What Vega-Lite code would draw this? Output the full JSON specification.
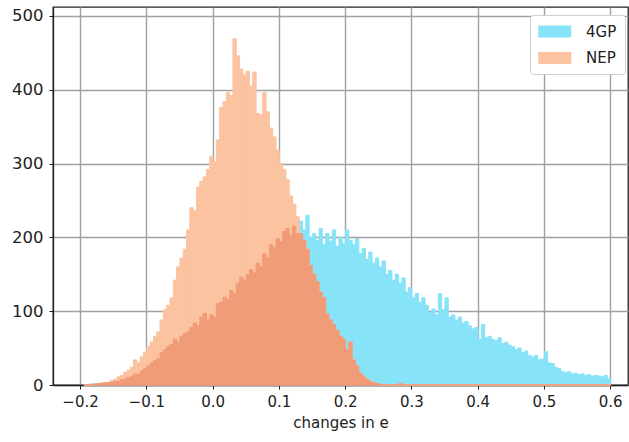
{
  "$schema": "https://vega.github.io/schema/vega-lite/v6.json",
  "autosize": {"type": "none"},
  "width": 575,
  "height": 378,
  "padding": {"left": 53, "top": 7, "right": 1, "bottom": 57},
  "background": "white",
  "config": {
    "view": {"stroke": "#222", "strokeWidth": 1.3},
    "axis": {"labelFont": "DejaVu Sans", "titleFont": "DejaVu Sans", "labelFontSize": 15, "labelColor": "#222", "titleColor": "#222", "titleFontWeight": "normal", "titleFontSize": 15, "domainColor": "#222", "domainWidth": 1.3, "tickColor": "#222", "tickSize": 4, "gridColor": "#a0a0a0", "gridWidth": 1.4, "zindex": 1}
  },
  "data": {"values": [
    {"x": -0.195, "g": 0, "n": 0}, {"x": -0.19, "g": 1, "n": 0}, {"x": -0.185, "g": 1, "n": 1}, {"x": -0.18, "g": 2, "n": 1},
    {"x": -0.175, "g": 2, "n": 2}, {"x": -0.17, "g": 2, "n": 3}, {"x": -0.165, "g": 3, "n": 3}, {"x": -0.16, "g": 3, "n": 4},
    {"x": -0.155, "g": 4, "n": 6}, {"x": -0.15, "g": 5, "n": 8}, {"x": -0.145, "g": 5, "n": 11}, {"x": -0.14, "g": 7, "n": 13},
    {"x": -0.135, "g": 8, "n": 17}, {"x": -0.13, "g": 10, "n": 20}, {"x": -0.125, "g": 12, "n": 24}, {"x": -0.12, "g": 15, "n": 34},
    {"x": -0.115, "g": 14, "n": 30}, {"x": -0.11, "g": 19, "n": 38}, {"x": -0.105, "g": 22, "n": 44}, {"x": -0.1, "g": 26, "n": 52},
    {"x": -0.095, "g": 30, "n": 58}, {"x": -0.09, "g": 33, "n": 66}, {"x": -0.085, "g": 36, "n": 72}, {"x": -0.08, "g": 44, "n": 88},
    {"x": -0.075, "g": 48, "n": 102}, {"x": -0.07, "g": 52, "n": 108}, {"x": -0.065, "g": 55, "n": 118}, {"x": -0.06, "g": 62, "n": 142},
    {"x": -0.055, "g": 58, "n": 160}, {"x": -0.05, "g": 66, "n": 172}, {"x": -0.045, "g": 70, "n": 184}, {"x": -0.04, "g": 72, "n": 210},
    {"x": -0.035, "g": 78, "n": 240}, {"x": -0.03, "g": 84, "n": 236}, {"x": -0.025, "g": 80, "n": 268}, {"x": -0.02, "g": 92, "n": 276},
    {"x": -0.015, "g": 97, "n": 282}, {"x": -0.01, "g": 88, "n": 292}, {"x": -0.005, "g": 95, "n": 310}, {"x": 0, "g": 92, "n": 302},
    {"x": 0.005, "g": 110, "n": 332}, {"x": 0.01, "g": 112, "n": 376}, {"x": 0.015, "g": 119, "n": 384}, {"x": 0.02, "g": 116, "n": 396},
    {"x": 0.025, "g": 128, "n": 392}, {"x": 0.03, "g": 124, "n": 469}, {"x": 0.035, "g": 138, "n": 446}, {"x": 0.04, "g": 146, "n": 428},
    {"x": 0.045, "g": 142, "n": 420}, {"x": 0.05, "g": 150, "n": 425}, {"x": 0.055, "g": 156, "n": 405}, {"x": 0.06, "g": 152, "n": 424},
    {"x": 0.065, "g": 165, "n": 368}, {"x": 0.07, "g": 160, "n": 366}, {"x": 0.075, "g": 178, "n": 396}, {"x": 0.08, "g": 172, "n": 370},
    {"x": 0.085, "g": 190, "n": 348}, {"x": 0.09, "g": 186, "n": 336}, {"x": 0.095, "g": 198, "n": 318}, {"x": 0.1, "g": 194, "n": 300},
    {"x": 0.105, "g": 208, "n": 292}, {"x": 0.11, "g": 212, "n": 278}, {"x": 0.115, "g": 202, "n": 256}, {"x": 0.12, "g": 215, "n": 245},
    {"x": 0.125, "g": 205, "n": 228}, {"x": 0.13, "g": 222, "n": 205}, {"x": 0.135, "g": 210, "n": 196}, {"x": 0.14, "g": 230, "n": 184},
    {"x": 0.145, "g": 200, "n": 162}, {"x": 0.15, "g": 205, "n": 150}, {"x": 0.155, "g": 196, "n": 140}, {"x": 0.16, "g": 212, "n": 126},
    {"x": 0.165, "g": 190, "n": 118}, {"x": 0.17, "g": 205, "n": 96}, {"x": 0.175, "g": 195, "n": 88}, {"x": 0.18, "g": 210, "n": 82},
    {"x": 0.185, "g": 188, "n": 74}, {"x": 0.19, "g": 200, "n": 66}, {"x": 0.195, "g": 192, "n": 62}, {"x": 0.2, "g": 210, "n": 48},
    {"x": 0.205, "g": 196, "n": 58}, {"x": 0.21, "g": 190, "n": 34}, {"x": 0.215, "g": 198, "n": 26}, {"x": 0.22, "g": 178, "n": 16},
    {"x": 0.225, "g": 185, "n": 12}, {"x": 0.23, "g": 170, "n": 8}, {"x": 0.235, "g": 180, "n": 5}, {"x": 0.24, "g": 165, "n": 3},
    {"x": 0.245, "g": 172, "n": 2}, {"x": 0.25, "g": 160, "n": 1}, {"x": 0.255, "g": 168, "n": 0}, {"x": 0.26, "g": 150, "n": 0},
    {"x": 0.265, "g": 155, "n": 0}, {"x": 0.27, "g": 142, "n": 0}, {"x": 0.275, "g": 150, "n": 0}, {"x": 0.28, "g": 138, "n": 2},
    {"x": 0.285, "g": 145, "n": 0}, {"x": 0.29, "g": 126, "n": 0}, {"x": 0.295, "g": 132, "n": 0}, {"x": 0.3, "g": 118, "n": 0},
    {"x": 0.305, "g": 124, "n": 0}, {"x": 0.31, "g": 112, "n": 0}, {"x": 0.315, "g": 118, "n": 0}, {"x": 0.32, "g": 108, "n": 0},
    {"x": 0.325, "g": 98, "n": 0}, {"x": 0.33, "g": 103, "n": 0}, {"x": 0.335, "g": 95, "n": 0}, {"x": 0.34, "g": 124, "n": 0},
    {"x": 0.345, "g": 102, "n": 0}, {"x": 0.35, "g": 118, "n": 0}, {"x": 0.355, "g": 92, "n": 0}, {"x": 0.36, "g": 95, "n": 0},
    {"x": 0.365, "g": 88, "n": 0}, {"x": 0.37, "g": 92, "n": 0}, {"x": 0.375, "g": 84, "n": 0}, {"x": 0.38, "g": 86, "n": 0},
    {"x": 0.385, "g": 80, "n": 0}, {"x": 0.39, "g": 76, "n": 0}, {"x": 0.395, "g": 78, "n": 0}, {"x": 0.4, "g": 62, "n": 0},
    {"x": 0.405, "g": 82, "n": 0}, {"x": 0.41, "g": 64, "n": 0}, {"x": 0.415, "g": 66, "n": 0}, {"x": 0.42, "g": 62, "n": 0},
    {"x": 0.425, "g": 60, "n": 0}, {"x": 0.43, "g": 64, "n": 0}, {"x": 0.435, "g": 56, "n": 0}, {"x": 0.44, "g": 58, "n": 0},
    {"x": 0.445, "g": 54, "n": 0}, {"x": 0.45, "g": 52, "n": 0}, {"x": 0.455, "g": 48, "n": 0}, {"x": 0.46, "g": 50, "n": 0},
    {"x": 0.465, "g": 44, "n": 0}, {"x": 0.47, "g": 46, "n": 0}, {"x": 0.475, "g": 40, "n": 0}, {"x": 0.48, "g": 38, "n": 0},
    {"x": 0.485, "g": 40, "n": 0}, {"x": 0.49, "g": 34, "n": 0}, {"x": 0.495, "g": 35, "n": 0}, {"x": 0.5, "g": 45, "n": 0},
    {"x": 0.505, "g": 30, "n": 0}, {"x": 0.51, "g": 29, "n": 0}, {"x": 0.515, "g": 24, "n": 0}, {"x": 0.52, "g": 22, "n": 0},
    {"x": 0.525, "g": 18, "n": 0}, {"x": 0.53, "g": 17, "n": 0}, {"x": 0.535, "g": 18, "n": 0}, {"x": 0.54, "g": 15, "n": 0},
    {"x": 0.545, "g": 16, "n": 0}, {"x": 0.55, "g": 14, "n": 0}, {"x": 0.555, "g": 15, "n": 0}, {"x": 0.56, "g": 13, "n": 0},
    {"x": 0.565, "g": 14, "n": 0}, {"x": 0.57, "g": 12, "n": 0}, {"x": 0.575, "g": 13, "n": 0}, {"x": 0.58, "g": 12, "n": 0},
    {"x": 0.585, "g": 11, "n": 0}, {"x": 0.59, "g": 13, "n": 0}, {"x": 0.595, "g": 9, "n": 0}
  ]},
  "transform": [{"calculate": "min(datum.g, datum.n)", "as": "m"}],
  "encoding": {
    "x": {
      "field": "x", "type": "quantitative", "bin": {"binned": true, "step": 0.005},
      "scale": {"domain": [-0.2408, 0.627], "nice": false, "zero": false},
      "axis": {"values": [-0.2, -0.1, 0, 0.1, 0.2, 0.3, 0.4, 0.5, 0.6], "format": ".1f", "title": "changes in e", "labelPadding": 5, "titlePadding": 6, "grid": true}
    }
  },
  "layer": [
    {
      "mark": {"type": "bar", "binSpacing": 0, "stroke": "#87e3f8", "strokeWidth": 1},
      "encoding": {
        "y": {"field": "g", "type": "quantitative", "scale": {"domain": [0, 512], "nice": false}, "axis": {"values": [0, 100, 200, 300, 400, 500], "title": null, "labelPadding": 6, "labelFontSize": 16.5, "grid": true}},
        "color": {"datum": "4GP", "type": "nominal", "scale": {"domain": ["4GP", "NEP"], "range": ["#87e3f8", "#fbc3a0"]},
          "legend": {"title": null, "orient": "none", "legendX": 477, "legendY": 8, "symbolType": "M-1,-0.72H3V0.72H-1Z", "symbolSize": 272, "symbolStrokeWidth": 0, "labelFont": "DejaVu Sans", "labelFontSize": 15, "labelColor": "#222", "rowPadding": 9.5, "labelOffset": 31, "padding": 8, "strokeColor": "#d0d0d0", "fillColor": "white", "cornerRadius": 3}}
      }
    },
    {
      "mark": {"type": "bar", "binSpacing": 0, "stroke": "#fbc3a0", "strokeWidth": 1},
      "encoding": {
        "y": {"field": "n", "type": "quantitative"},
        "color": {"datum": "NEP", "type": "nominal"}
      }
    },
    {
      "mark": {"type": "bar", "binSpacing": 0, "color": "#f19c78", "stroke": "#f19c78", "strokeWidth": 1},
      "encoding": {
        "y": {"field": "m", "type": "quantitative"}
      }
    }
  ]
}
